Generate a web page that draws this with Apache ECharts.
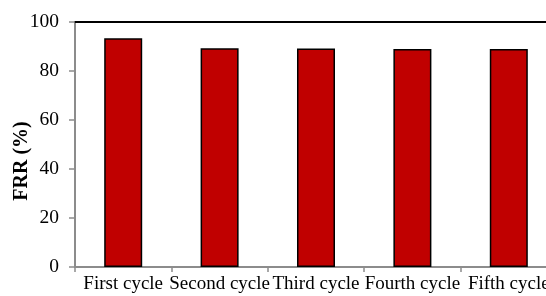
<!DOCTYPE html>
<html>
<head>
<meta charset="utf-8">
<script src="https://cdn.jsdelivr.net/npm/echarts@6/dist/echarts.min.js"></script>
<style>
  html, body { margin: 0; padding: 0; background: #fff; }
  #chart { width: 546px; height: 296px; }
</style>
</head>
<body>
<div id="chart"></div>
<script>
const categories = ['First cycle', 'Second cycle', 'Third cycle', 'Fourth cycle', 'Fifth cycle']
const frrValues = [93.4, 89.3, 89.2, 89.0, 89.0]
const yTicks = { min: 0, max: 100, interval: 20 }

const font = '"Liberation Serif", "Times New Roman", serif'
const chart = echarts.init(document.getElementById('chart'))

chart.setOption({
  animation: false,
  textStyle: { fontFamily: font },
  grid: { left: 75, top: 22, width: 482, height: 245, containLabel: false, outerBoundsMode: 'none' },
  xAxis: [
    {
      type: 'category',
      data: categories,
      axisLine: { lineStyle: { color: '#8c8c8c', width: 2 } },
      axisTick: { show: true, length: 5, lineStyle: { color: '#8c8c8c', width: 1.5 } },
      axisLabel: { color: '#000', fontSize: 19, fontFamily: font, margin: 8, interval: 0, hideOverlap: false },
    },
    {
      type: 'category',
      position: 'top',
      data: categories,
      axisLine: { lineStyle: { color: '#000', width: 2 } },
      axisTick: { show: false },
      axisLabel: { show: false },
    },
  ],
  yAxis: {
    type: 'value',
    min: yTicks.min,
    max: yTicks.max,
    interval: yTicks.interval,
    axisLine: { show: true, lineStyle: { color: '#8c8c8c', width: 2 } },
    axisTick: { show: true, length: 6, lineStyle: { color: '#8c8c8c', width: 1.5 } },
    axisLabel: { color: '#000', fontSize: 19.5, fontFamily: font, margin: 16 },
    splitLine: { show: false },
  },
  graphic: [
    {
      type: 'text',
      x: 22,
      y: 161,
      rotation: Math.PI / 2,
      style: {
        text: 'FRR (%)',
        fontFamily: font,
        fontSize: 20,
        fontWeight: 'bold',
        fill: '#000',
        align: 'center',
        verticalAlign: 'middle',
      },
    },
  ],
  series: [
    {
      type: 'bar',
      data: frrValues,
      barWidth: 38,
      itemStyle: { color: '#c00000', borderColor: '#000', borderWidth: 1.5 },
    },
  ],
})
</script>
</body>
</html>
